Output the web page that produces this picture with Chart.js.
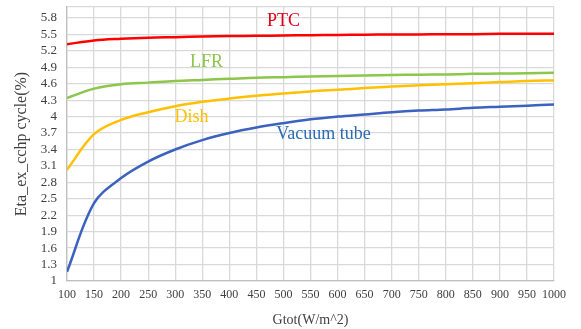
<!DOCTYPE html>
<html><head><meta charset="utf-8">
<script src="https://cdn.jsdelivr.net/npm/chart.js@4"></script>
<style>html,body{margin:0;padding:0;background:#fff}#wrap{width:581px;height:329px}</style>
</head><body><div id="wrap"><canvas id="c" width="581" height="329"></canvas></div>
<script>
const G = [100,150,200,250,300,350,400,450,500,550,600,650,700,750,800,850,900,950,1000];
const PTC    = [5.32,5.39,5.42,5.44,5.45,5.46,5.47,5.475,5.48,5.485,5.49,5.495,5.50,5.50,5.505,5.505,5.51,5.51,5.51];
const LFR    = [4.34,4.51,4.59,4.62,4.65,4.67,4.69,4.71,4.72,4.73,4.74,4.75,4.76,4.765,4.77,4.78,4.785,4.79,4.80];
const Dish   = [3.03,3.68,3.94,4.08,4.19,4.27,4.33,4.38,4.42,4.46,4.49,4.52,4.55,4.57,4.59,4.61,4.63,4.65,4.66];
const Vacuum = [1.17,2.42,2.88,3.18,3.40,3.57,3.70,3.80,3.88,3.95,4.00,4.04,4.08,4.11,4.13,4.16,4.18,4.20,4.22];
const yTicks = [1,1.3,1.6,1.9,2.2,2.5,2.8,3.1,3.4,3.7,4,4.3,4.6,4.9,5.2,5.5,5.8,6];
const seriesNames = ['PTC','LFR','Dish','Vacuum tube'];
const seriesColors = ['#FF0000','#8CC64A','#FFC000','#3A62BE'];
const labelColors = ['#E0001B','#8CC64A','#FFC000','#2A6CB4'];
const labelPos = [[500,5.74],[358,4.99],[330,3.99],[574,3.67]];
const values = [PTC, LFR, Dish, Vacuum];

const serif = "'Liberation Serif','Times New Roman',serif";

const labelPlugin = {
  id: 'seriesLabels',
  afterDatasetsDraw(chart) {
    const {ctx, scales:{x,y}} = chart;
    ctx.save();
    ctx.font = "18px " + serif;
    ctx.textAlign = 'center';
    ctx.textBaseline = 'middle';
    seriesNames.forEach((n,i) => {
      ctx.fillStyle = labelColors[i];
      ctx.fillText(n, x.getPixelForValue(labelPos[i][0]), y.getPixelForValue(labelPos[i][1]));
    });
    ctx.restore();
  }
};

new Chart(document.getElementById('c'), {
  type: 'line',
  data: {
    datasets: values.map((arr,i) => ({
      label: seriesNames[i],
      data: arr.map((v,j) => ({x: G[j], y: v})),
      borderColor: seriesColors[i],
      backgroundColor: seriesColors[i],
      borderWidth: 2.5,
      pointRadius: 0,
      tension: 0.35,
      fill: false
    }))
  },
  options: {
    responsive: false,
    animation: false,
    devicePixelRatio: 1,
    layout: { padding: { top: 7, right: 27, left: 0, bottom: 0 } },
    plugins: { legend: { display: false }, tooltip: { enabled: false } },
    scales: {
      x: {
        type: 'linear', min: 100, max: 1000,
        afterBuildTicks: s => { s.ticks = G.map(v => ({value: v})); },
        afterFit: s => { s.height = 48; s.paddingRight = 0; s.paddingLeft = 0; },
        grid: { color: '#D9D9D9', lineWidth: 1.3, drawTicks: false },
        border: { color: '#BFBFBF', width: 1.3 },
        ticks: { autoSkip: false, maxRotation: 0, padding: 7, color: '#404040',
                 font: { family: serif, size: 12 }, callback: v => String(v) },
        title: { display: true, text: 'Gtot(W/m^2)', color: '#404040', padding: { top: 4, bottom: 0 },
                 font: { family: serif, size: 14 } }
      },
      y: {
        type: 'linear', min: 1, max: 6,
        afterBuildTicks: s => { s.ticks = yTicks.map(v => ({value: v})); },
        afterFit: s => { s.width = 67; s.paddingTop = 0; s.paddingBottom = 0; },
        grid: { color: '#D9D9D9', lineWidth: 1.3, drawTicks: false },
        border: { color: '#BFBFBF', width: 1.3 },
        ticks: { autoSkip: false, padding: 10, color: '#404040', font: { family: serif, size: 13 },
                 callback: v => (v > 5.9 ? '' : String(+v.toFixed(1))) },
        title: { display: true, text: 'Eta_ex_cchp cycle(%)', color: '#404040', padding: { top: 12, bottom: 0 },
                 font: { family: serif, size: 16 } }
      }
    }
  },
  plugins: [labelPlugin]
});
</script>
</body></html>
